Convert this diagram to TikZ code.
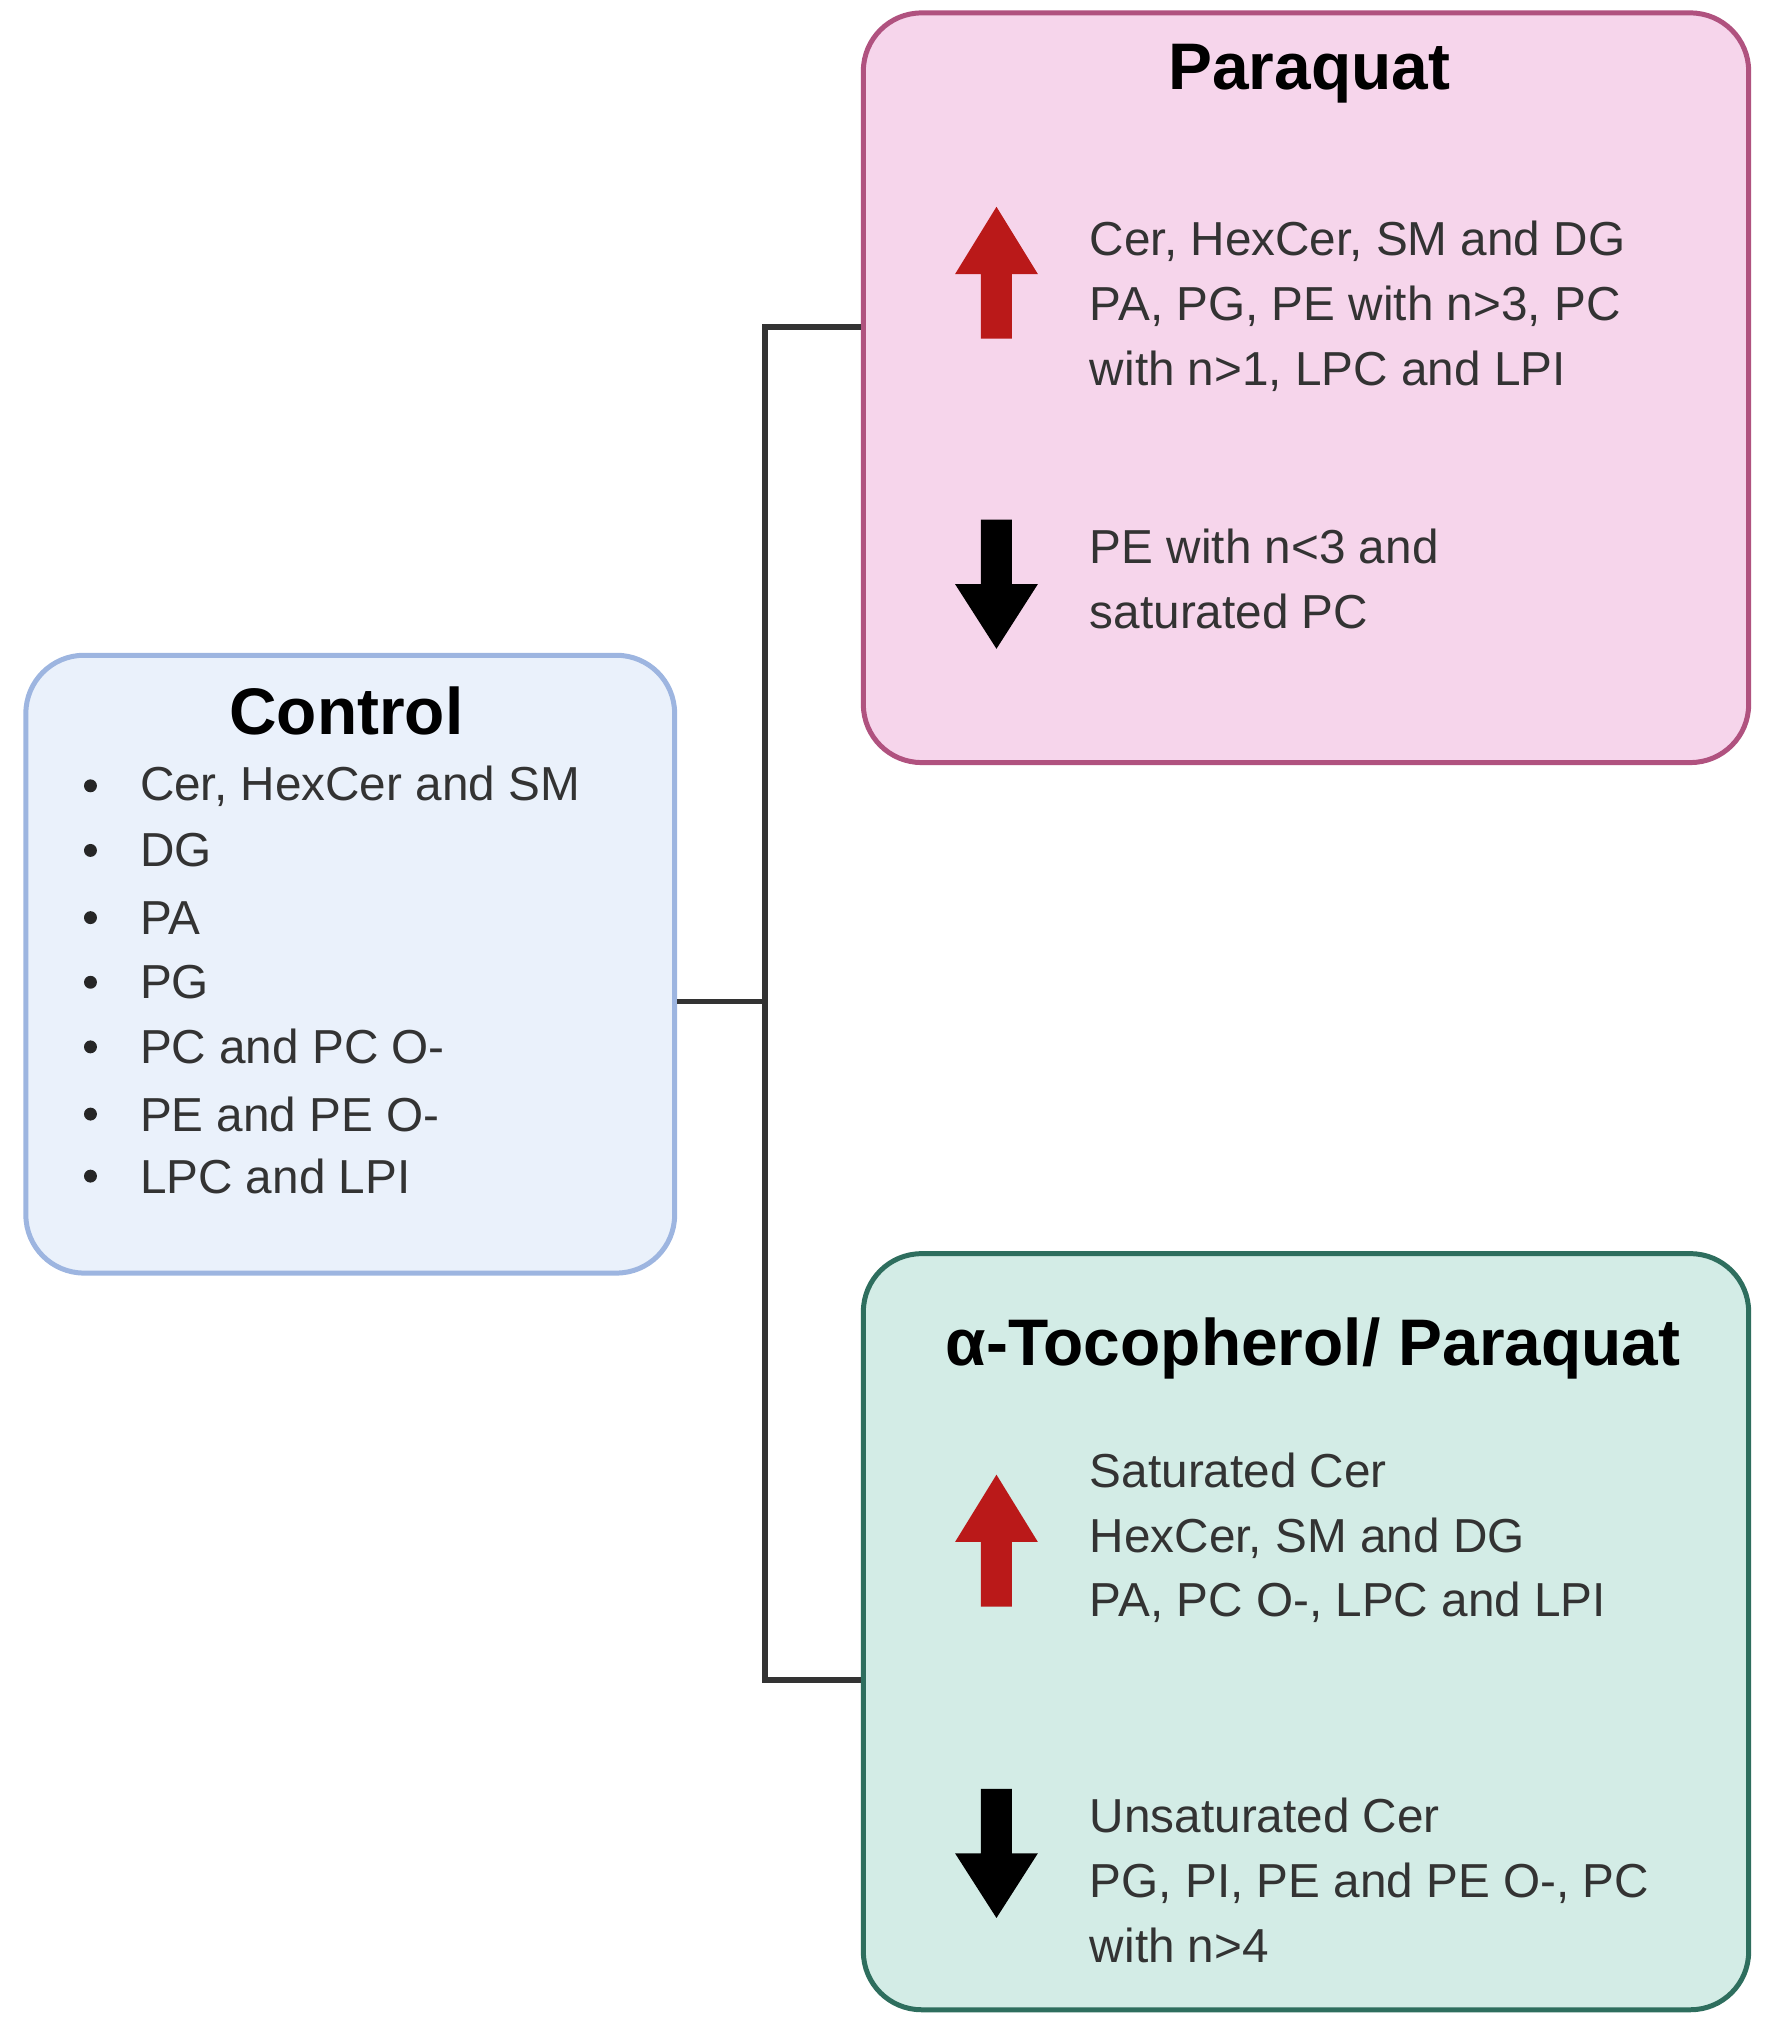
\documentclass[tikz,border=0pt]{standalone}
\usepackage{fontspec}
\setmainfont{Liberation Sans}
\begin{document}
\begin{tikzpicture}[x=0.02cm,y=-0.02cm,
  box/.style={draw,line width=2.2pt,rounded corners=0.9cm},
  txt/.style={anchor=west,align=left,inner sep=0pt,font=\fontsize{21}{28.5}\selectfont,text=black!80},
  ttl/.style={inner sep=0pt,font=\bfseries\fontsize{29}{34}\selectfont},
  conn/.style={line width=2.4pt,draw=black!80},
  uparr/.style={fill=red!75!black!85},
  dnarr/.style={fill=black}]
\useasboundingbox (0,0) rectangle (1370,1573);
\definecolor{cfill}{HTML}{EAF1FB}\definecolor{cline}{HTML}{9DB5E0}
\definecolor{pfill}{HTML}{F6D5EB}\definecolor{pline}{HTML}{B0527F}
\definecolor{tfill}{HTML}{D3ECE6}\definecolor{tline}{HTML}{2E6E5E}
\draw[box,fill=cfill,draw=cline] (20,507) rectangle (522,985);
\draw[box,fill=pfill,draw=pline] (668,10) rectangle (1353,590);
\draw[box,fill=tfill,draw=tline] (668,970) rectangle (1353,1555);
\coordinate (c) at (524,775); \coordinate (j) at (592,775);
\coordinate (jt) at (592,253); \coordinate (jb) at (592,1300);
\coordinate (pt) at (666,253); \coordinate (tb) at (666,1300);
\draw[conn] (c) -- (j);
\draw[conn] (pt) -- (jt) -- (jb) -- (tb);
\node[ttl] (ct) at (268,550) {Control};
\node[ttl] (pq) at (1013,57) {Paraquat};
\node[ttl] (tq) at (1016,1043) {α-Tocopherol/ Paraquat};
\foreach \y/\t [count=\i] in {608/{Cer, HexCer and SM},658/DG,710/PA,760/PG,810/{PC and PC O-},862/{PE and PE O-},910/{LPC and LPI}}{
  \fill[black!85] (70,\y) circle (5);
  \node[txt] (cl\i) at (108,\y) {\t};}
\node[txt] (pu) at (843,237) {Cer, HexCer, SM and DG\\PA, PG, PE with n>3, PC\\with n>1, LPC and LPI};
\node[txt] (pd) at (843,448) {PE with n<3 and\\saturated PC};
\node[txt] (tu) at (843,1190) {Saturated Cer\\HexCer, SM and DG\\PA, PC O-, LPC and LPI};
\node[txt] (td) at (843,1455) {Unsaturated Cer\\PG, PI, PE and PE O-, PC\\with n>4};
\foreach \yt in {160,1141}{
 \fill[uparr,fill=red!70!black!90] (771,\yt) -- (803,\yt+52) -- (783,\yt+52) -- (783,\yt+102) -- (759,\yt+102) -- (759,\yt+52) -- (739,\yt+52) -- cycle;}
\foreach \yt in {402,1384}{
 \fill[dnarr] (771,\yt+100) -- (803,\yt+50) -- (783,\yt+50) -- (783,\yt) -- (759,\yt) -- (759,\yt+50) -- (739,\yt+50) -- cycle;}
\end{tikzpicture}
\end{document}
